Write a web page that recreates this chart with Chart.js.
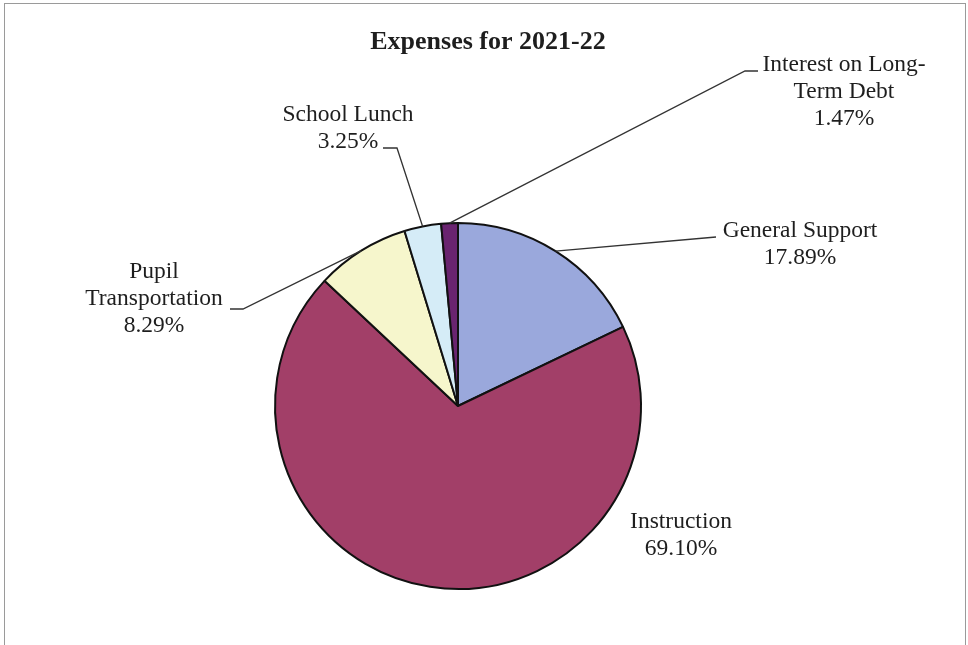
<!DOCTYPE html>
<html>
<head>
<meta charset="utf-8">
<title>Expenses for 2021-22</title>
<script src="https://cdn.jsdelivr.net/npm/chart.js@4.4.1/dist/chart.umd.min.js"></script>
<style>
  html, body { margin: 0; padding: 0; background: #fff; }
  #wrap { position: relative; width: 968px; height: 645px; overflow: hidden; }
  #frame { position: absolute; left: 4px; top: 3px; right: 2px; height: 700px; border: 1px solid #9a9a9a; border-bottom: none; }
  #chartBox { position: absolute; left: 0; top: 0; width: 968px; height: 645px; }
</style>
</head>
<body>
<div id="wrap">
  <div id="frame"></div>
  <div id="chartBox"><canvas id="expensesChart"></canvas></div>
</div>
<script>
// data
const categories = ['General Support', 'Instruction', 'Pupil Transportation', 'School Lunch', 'Interest on Long-Term Debt'];
const shares = [17.89, 69.10, 8.29, 3.25, 1.47];
const labelNames = [['General Support'], ['Instruction'], ['Pupil', 'Transportation'], ['School Lunch'], ['Interest on Long-', 'Term Debt']];
const sliceColors = ['#9aa8dc', '#a23f68', '#f6f6cc', '#d5ecf7', '#6a2470'];
const chartTitle = 'Expenses for 2021-22';

// where each label sits and how its leader line bends
const labelPlacement = [
    { x: 800, y: 231, elbow: [716, 237], tick: null },
    { x: 681, y: 522, elbow: null, tick: null },
    { x: 154, y: 272, elbow: [243, 309], tick: [230, 309] },
    { x: 348, y: 115, elbow: [397, 148], tick: [383, 148] },
    { x: 844, y: 65, elbow: [745, 71], tick: [758, 71] }
];

const serif = '"Liberation Serif", "Times New Roman", serif';

// custom labels + leader lines, anchored on the arcs chart.js computed
const pieLabels = {
    id: 'pieLabels',
    afterDraw(chart) {
        const ctx = chart.ctx;
        const meta = chart.getDatasetMeta(0);
        ctx.save();

        ctx.fillStyle = '#1e1e1e';
        ctx.font = 'bold 26px ' + serif;
        ctx.textAlign = 'center';
        ctx.textBaseline = 'middle';
        ctx.fillText(chartTitle, 488, 42);

        ctx.strokeStyle = '#333';
        ctx.lineWidth = 1.3;
        meta.data.forEach((arc, i) => {
            const p = labelPlacement[i];
            if (p.elbow) {
                const mid = (arc.startAngle + arc.endAngle) / 2;
                const r = arc.outerRadius;
                ctx.beginPath();
                ctx.moveTo(arc.x + Math.cos(mid) * r, arc.y + Math.sin(mid) * r);
                ctx.lineTo(p.elbow[0], p.elbow[1]);
                if (p.tick) ctx.lineTo(p.tick[0], p.tick[1]);
                ctx.stroke();
            }
            const lines = labelNames[i].concat([shares[i].toFixed(2) + '%']);
            ctx.font = '23.5px ' + serif;
            lines.forEach((t, k) => ctx.fillText(t, p.x, p.y + k * 27));
        });
        ctx.restore();
    }
};

new Chart(document.getElementById('expensesChart').getContext('2d'), {
    type: 'pie',
    data: {
        labels: categories,
        datasets: [{
            data: shares,
            backgroundColor: sliceColors,
            borderColor: '#111',
            borderWidth: 2
        }]
    },
    options: {
        responsive: true,
        maintainAspectRatio: false,
        animation: false,
        radius: 183,
        layout: { padding: { left: 0, right: 52, top: 167, bottom: 0 } },
        plugins: {
            legend: { display: false },
            title: { display: false },
            tooltip: { enabled: false }
        },
        events: []
    },
    plugins: [pieLabels]
});
</script>
</body>
</html>
